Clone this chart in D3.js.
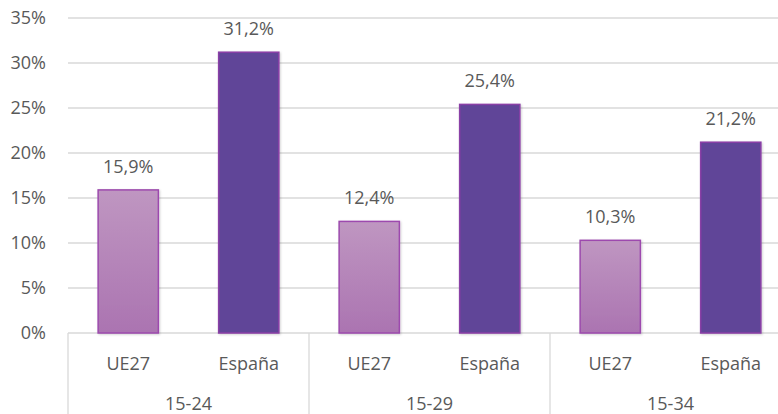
<!DOCTYPE html>
<html>
<head>
<meta charset="utf-8">
<script src="https://cdn.jsdelivr.net/npm/d3@7"></script>
<style>
  html, body { margin: 0; padding: 0; background: #fff; }
  svg { display: block; font-family: "Open Sans", sans-serif; }
</style>
</head>
<body>
<div id="chart"></div>
<script>
// Data
var groups = ["15-24", "15-29", "15-34"];
var series = ["UE27", "España"];
var ue27 = [15.9, 12.4, 10.3];
var espana = [31.2, 25.4, 21.2];
var yTicks = [0, 5, 10, 15, 20, 25, 30, 35];

var rows = [];
groups.forEach(function(g, i) {
  rows.push({ group: g, serie: "UE27", value: ue27[i] });
  rows.push({ group: g, serie: "España", value: espana[i] });
});

var width = 778, height = 414;
var plotLeft = 68, plotRight = 791, plotTop = 18, plotBottom = 333;

var svg = d3.select("#chart")
  .append("svg")
    .attr("width", width)
    .attr("height", height);

var defs = svg.append("defs");

// Light gradient for UE27 bars
var grad = defs.append("linearGradient")
    .attr("id", "ueGrad")
    .attr("x1", "0%").attr("y1", "0%")
    .attr("x2", "0%").attr("y2", "100%");
grad.append("stop").attr("offset", "0%").attr("stop-color", "#bf96c1");
grad.append("stop").attr("offset", "100%").attr("stop-color", "#ab74b1");

// Soft shadow
var shadow = defs.append("filter")
    .attr("id", "shadow")
    .attr("x", "-20%").attr("y", "-20%")
    .attr("width", "140%").attr("height", "140%");
shadow.append("feDropShadow")
    .attr("dx", 1).attr("dy", 1)
    .attr("stdDeviation", 1.2)
    .attr("flood-color", "#000")
    .attr("flood-opacity", 0.18);

// Scales
var x0 = d3.scaleBand()
    .domain(groups)
    .range([plotLeft, plotRight])
    .padding(0);

var x1 = d3.scaleBand()
    .domain(series)
    .range([0, x0.bandwidth()])
    .paddingInner(0.5)
    .paddingOuter(0.25);

var y = d3.scaleLinear()
    .domain([0, 35])
    .range([plotBottom, plotTop]);

// Gridlines
svg.append("g")
  .selectAll("line")
  .data(yTicks)
  .join("line")
    .attr("x1", plotLeft)
    .attr("x2", plotRight)
    .attr("y1", function(d) { return y(d); })
    .attr("y2", function(d) { return y(d); })
    .attr("stroke", "#d9d9d9")
    .attr("stroke-width", 1.3);

// Y axis labels
var yAxis = d3.axisLeft(y)
    .tickValues(yTicks)
    .tickSize(0)
    .tickPadding(22)
    .tickFormat(function(d) { return d + "%"; });

svg.append("g")
    .attr("transform", "translate(" + plotLeft + ",0)")
    .call(yAxis)
    .call(function(g) { g.select(".domain").remove(); })
    .selectAll("text")
      .attr("fill", "#595959")
      .attr("font-size", 18)
      .attr("font-family", "Open Sans, sans-serif");

// Group separators below the axis
var seps = groups.map(function(g) { return x0(g); }).concat([plotRight]);
svg.append("g")
  .selectAll("line")
  .data(seps)
  .join("line")
    .attr("x1", function(d) { return d; })
    .attr("x2", function(d) { return d; })
    .attr("y1", plotBottom)
    .attr("y2", height)
    .attr("stroke", "#d9d9d9")
    .attr("stroke-width", 1.3);

// Bars
svg.append("g")
  .selectAll("rect")
  .data(rows)
  .join("rect")
    .attr("x", function(d) { return x0(d.group) + x1(d.serie); })
    .attr("y", function(d) { return y(d.value); })
    .attr("width", x1.bandwidth())
    .attr("height", function(d) { return y(0) - y(d.value); })
    .attr("fill", function(d) { return d.serie === "UE27" ? "url(#ueGrad)" : "#604498"; })
    .attr("stroke", function(d) { return d.serie === "UE27" ? "#9d4aae" : "#8a3fa6"; })
    .attr("stroke-width", 1.5)
    .attr("filter", "url(#shadow)");

// Value labels
svg.append("g")
  .selectAll("text")
  .data(rows)
  .join("text")
    .attr("x", function(d) { return x0(d.group) + x1(d.serie) + x1.bandwidth() / 2; })
    .attr("y", function(d) { return y(d.value) - 17; })
    .attr("text-anchor", "middle")
    .attr("fill", "#595959")
    .attr("font-size", 18)
    .text(function(d) { return d.value.toFixed(1).replace(".", ",") + "%"; });

// Series labels
svg.append("g")
  .selectAll("text")
  .data(rows)
  .join("text")
    .attr("x", function(d) { return x0(d.group) + x1(d.serie) + x1.bandwidth() / 2; })
    .attr("y", 370)
    .attr("text-anchor", "middle")
    .attr("fill", "#595959")
    .attr("font-size", 18)
    .text(function(d) { return d.serie; });

// Group labels
svg.append("g")
  .selectAll("text")
  .data(groups)
  .join("text")
    .attr("x", function(d) { return x0(d) + x0.bandwidth() / 2; })
    .attr("y", 410)
    .attr("text-anchor", "middle")
    .attr("fill", "#595959")
    .attr("font-size", 18)
    .text(function(d) { return d; });
</script>
</body>
</html>
